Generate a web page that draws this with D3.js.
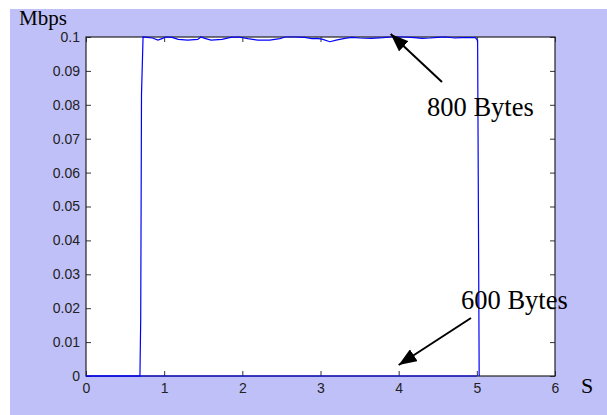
<!DOCTYPE html>
<html>
<head>
<meta charset="utf-8">
<script src="https://cdn.jsdelivr.net/npm/d3@7"></script>
<style>
  html, body { margin: 0; padding: 0; background: #fff; }
  svg { display: block; }
</style>
</head>
<body>
<svg id="chart" width="607" height="415"></svg>
<script>
// Throughput of the 800-byte flow (Mbps) over time (s)
const timeS = [0, 0.69, 0.70, 0.71, 0.73, 0.78, 0.85, 0.92, 0.98, 1.02, 1.10, 1.18, 1.30, 1.43, 1.47,
  1.52, 1.60, 1.74, 1.85, 1.95, 2.07, 2.20, 2.35, 2.48, 2.55, 2.67, 2.80, 2.89, 2.96, 3.03, 3.12,
  3.20, 3.31, 3.40, 3.50, 3.65, 3.80, 3.90, 4.05, 4.20, 4.30, 4.40, 4.50, 4.60, 4.72, 4.80, 4.91,
  4.98, 5.01, 5.03];
const rate800 = [0, 0, 0.017, 0.083, 0.1, 0.0999, 0.0997, 0.0991, 0.0996, 0.1, 0.0999, 0.0993, 0.0991, 0.0993, 0.1,
  0.0996, 0.0991, 0.0993, 0.0999, 0.1, 0.0995, 0.0991, 0.0991, 0.0995, 0.1, 0.1, 0.0999, 0.0995, 0.0996, 0.0993, 0.0986,
  0.0991, 0.0996, 0.0999, 0.0997, 0.0996, 0.0998, 0.1, 0.1, 0.0998, 0.0996, 0.0997, 0.0999, 0.1, 0.0997, 0.0998, 0.0998,
  0.0998, 0.099, 0];

// The 600-byte flow stays at zero
const time600 = [0, 5.0];
const rate600 = [0, 0];

const xTicks = [0, 1, 2, 3, 4, 5, 6];
const yTicks = [0, 0.01, 0.02, 0.03, 0.04, 0.05, 0.06, 0.07, 0.08, 0.09, 0.1];
const yTickLabels = ["0", "0.01", "0.02", "0.03", "0.04", "0.05", "0.06", "0.07", "0.08", "0.09", "0.1"];

const svg = d3.select("#chart");
const plot = { left: 86, top: 37, right: 555, bottom: 376 };

// figure background
svg.append("rect").attr("x", 10).attr("y", 9).attr("width", 597).attr("height", 406)
  .attr("fill", "#c0c0f8");

const x = d3.scaleLinear().domain([0, 6]).range([plot.left, plot.right]);
const y = d3.scaleLinear().domain([0, 0.1]).range([plot.bottom, plot.top]);

svg.append("rect").attr("x", plot.left).attr("y", plot.top)
  .attr("width", plot.right - plot.left).attr("height", plot.bottom - plot.top)
  .attr("fill", "#fff");

const tickStyle = g => {
  g.select(".domain").remove();
  g.selectAll(".tick line").attr("stroke", "#333");
  g.selectAll(".tick text").attr("fill", "#222")
    .attr("font-family", "Liberation Sans, Arial, sans-serif").attr("font-size", 14);
};

// inward ticks on all four sides, MATLAB-style box
svg.append("g").attr("transform", `translate(0,${plot.bottom})`)
  .call(d3.axisBottom(x).tickValues(xTicks).tickFormat(d3.format("d")).tickSizeInner(-5).tickSizeOuter(0).tickPadding(7))
  .call(tickStyle);
svg.append("g").attr("transform", `translate(0,${plot.top})`)
  .call(d3.axisTop(x).tickValues(xTicks).tickFormat("").tickSizeInner(-5).tickSizeOuter(0))
  .call(tickStyle);
svg.append("g").attr("transform", `translate(${plot.left},0)`)
  .call(d3.axisLeft(y).tickValues(yTicks).tickFormat((d, i) => yTickLabels[i]).tickSizeInner(-5).tickSizeOuter(0).tickPadding(6))
  .call(tickStyle);
svg.append("g").attr("transform", `translate(${plot.right},0)`)
  .call(d3.axisRight(y).tickValues(yTicks).tickFormat("").tickSizeInner(-5).tickSizeOuter(0))
  .call(tickStyle);

svg.append("rect").attr("x", plot.left).attr("y", plot.top)
  .attr("width", plot.right - plot.left).attr("height", plot.bottom - plot.top)
  .attr("fill", "none").attr("stroke", "#222").attr("stroke-width", 1.2);

const line = d3.line().x(d => x(d[0])).y(d => y(d[1]));

svg.append("path").datum(time600.map((t, i) => [t, rate600[i]]))
  .attr("d", line).attr("fill", "none").attr("stroke", "#0000ff").attr("stroke-width", 1.2);
svg.append("path").datum(timeS.map((t, i) => [t, rate800[i]]))
  .attr("d", line).attr("fill", "none").attr("stroke", "#0000ff").attr("stroke-width", 1.2);

// axis titles
const serif = "Liberation Serif, Times New Roman, serif";
svg.append("text").attr("x", 19).attr("y", 25).attr("font-family", serif).attr("font-size", 21)
  .attr("fill", "#000").text("Mbps");
svg.append("text").attr("x", 581).attr("y", 393).attr("font-family", serif).attr("font-size", 22)
  .attr("fill", "#000").text("S");

// annotations with arrows
svg.append("defs").append("marker").attr("id", "head").attr("viewBox", "0 0 10 10")
  .attr("refX", 10).attr("refY", 5).attr("markerWidth", 18).attr("markerHeight", 14)
  .attr("markerUnits", "userSpaceOnUse").attr("orient", "auto").attr("preserveAspectRatio", "none")
  .append("path").attr("d", "M0,0 L10,5 L0,10 Z").attr("fill", "#000");

const notes = [
  { text: "800 Bytes", tx: 427, ty: 116, from: [442, 82], to: [x(4.0) - 8, y(0.1) - 3] },
  { text: "600 Bytes", tx: 461, ty: 309, from: [471, 318], to: [x(4.0), y(0.1) + 328] }
];
notes.forEach(n => {
  svg.append("line").attr("x1", n.from[0]).attr("y1", n.from[1])
    .attr("x2", n.to[0]).attr("y2", n.to[1])
    .attr("stroke", "#000").attr("stroke-width", 2).attr("marker-end", "url(#head)");
  svg.append("text").attr("x", n.tx).attr("y", n.ty).attr("font-family", serif)
    .attr("font-size", 26.5).attr("fill", "#000").text(n.text);
});
</script>
</body>
</html>
